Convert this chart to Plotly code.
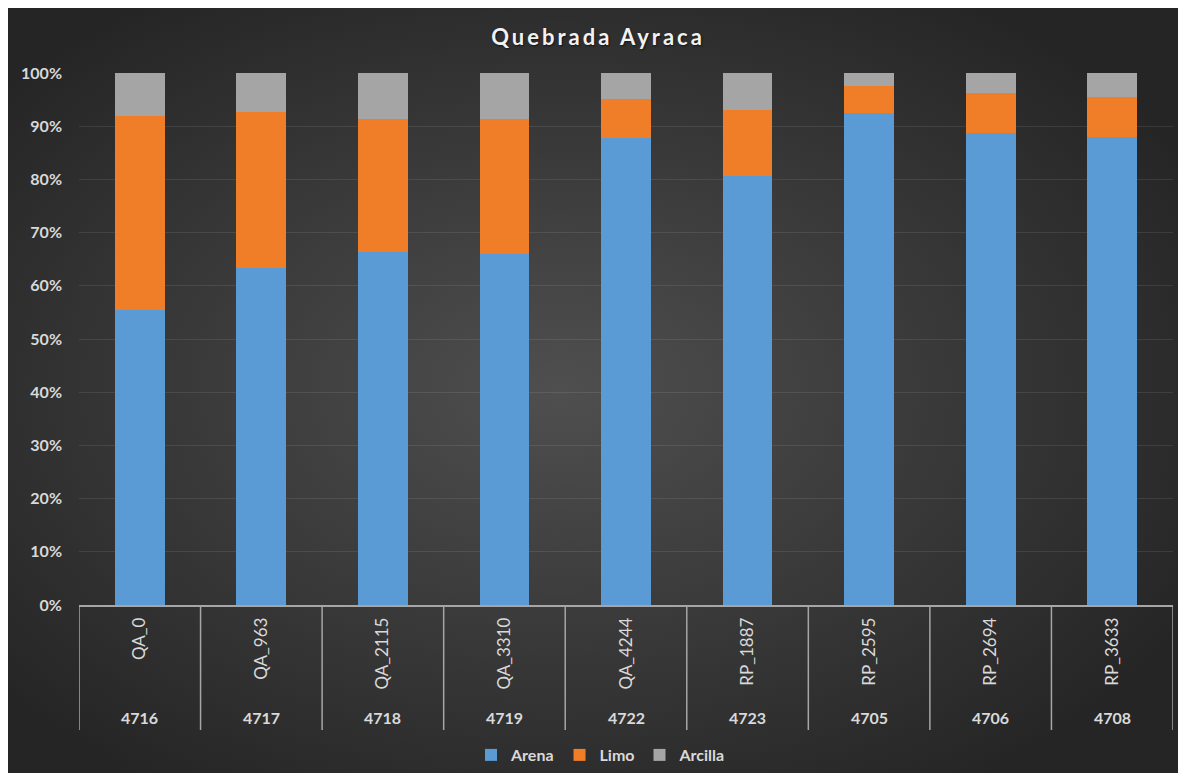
import base64
import plotly.graph_objects as go

# ---- data ----
samples = ["QA_0", "QA_963", "QA_2115", "QA_3310", "QA_4244",
           "RP_1887", "RP_2595", "RP_2694", "RP_3633"]
codes = ["4716", "4717", "4718", "4719", "4722", "4723", "4705", "4706", "4708"]
arena = [55.5, 63.3, 66.4, 66.0, 87.8, 80.6, 92.5, 88.7, 88.0]
limo = [36.4, 29.4, 25.0, 25.4, 7.3, 12.4, 5.1, 7.5, 7.5]
arcilla = [8.1, 7.3, 8.6, 8.6, 4.9, 7.0, 2.4, 3.8, 4.5]
y_ticks = [0, 10, 20, 30, 40, 50, 60, 70, 80, 90, 100]
y_labels = [f"{v}%" for v in y_ticks]

OFF = 8  # page body margin
W, H = 1172, 765
L, T = 79 - OFF, 73 - OFF
R = W - (1173 - OFF)
B = H - (605 - OFF)
PW, PH = W - L - R, H - T - B
AX = H - B  # axis y in figure px


def py(page_y):
    """page pixel y -> paper fraction"""
    return (AX - (page_y - OFF)) / PH


FONT = "Lato, 'Open Sans', sans-serif"
TXT = "#d9d9d9"

fig = go.Figure()
series = [("Arena", arena, "#5b9bd5"), ("Limo", limo, "#f07d28"), ("Arcilla", arcilla, "#a5a5a5")]
for name, vals, col in series:
    fig.add_trace(go.Bar(
        name=name, x=samples, y=vals,
        marker=dict(color=col, line=dict(width=0)),
    ))

# background with radial gradient (SVG)
svg = f'''<svg xmlns="http://www.w3.org/2000/svg" width="{W}" height="{H}" viewBox="0 0 {W} {H}">
<defs><radialGradient id="g" cx="47%" cy="50%" r="62%">
<stop offset="0" stop-color="#4f4f4f"/><stop offset="1" stop-color="#252525"/></radialGradient></defs>
<rect width="{W}" height="{H}" fill="url(#g)"/></svg>'''
src = "data:image/svg+xml;base64," + base64.b64encode(svg.encode()).decode()
fig.add_layout_image(dict(
    source=src, xref="paper", yref="paper",
    x=-L / PW, y=(AX) / PH,
    sizex=W / PW, sizey=H / PH,
    xanchor="left", yanchor="top", sizing="stretch", layer="below",
))

# divider lines of the category axis
n = len(samples)
for i in range(n + 1):
    fig.add_shape(type="line", xref="x", yref="paper",
                  x0=i - 0.5, x1=i - 0.5, y0=0, y1=py(730),
                  line=dict(color="#a6a6a6", width=1.5))

# outer category labels
for s, c in zip(samples, codes):
    fig.add_annotation(x=s, xref="x", yref="paper", y=py(717),
                       text=c, showarrow=False, yanchor="middle",
                       font=dict(family=FONT, size=16, color=TXT, weight="bold"))

fig.update_layout(
    width=W, height=H,
    margin=dict(l=L, r=R, t=T, b=B, autoexpand=False),
    paper_bgcolor="#2e2e2e", plot_bgcolor="rgba(0,0,0,0)",
    barmode="stack", bargap=0.59,
    title=dict(text='<span style="letter-spacing:3px">Quebrada Ayraca</span>',
               x=(598 - OFF) / W, xref="container", xanchor="center",
               y=1 - (37 - OFF) / H, yref="container", yanchor="middle",
               font=dict(family=FONT, size=22, color="#f2f2f2", weight="bold",
                         shadow="1px 1px 2px rgba(0,0,0,0.6)")),
    legend=dict(orientation="h", x=(601 - 79) / PW, xanchor="center",
                y=py(755), yanchor="middle", traceorder="normal",
                font=dict(family=FONT, size=16, color=TXT, weight="bold"),
                bgcolor="rgba(0,0,0,0)", itemwidth=30, tracegroupgap=0),
    xaxis=dict(range=[-0.5, n - 0.5], showgrid=False, showline=True,
               linecolor="#a6a6a6", linewidth=1.5, ticks="", tickangle=-90,
               tickfont=dict(family=FONT, size=17, color=TXT),
               ticklabelstandoff=4, fixedrange=True),
    yaxis=dict(range=[0, 100], tickmode="array", tickvals=y_ticks, ticktext=y_labels,
               gridcolor="rgba(255,255,255,0.09)", gridwidth=1, zeroline=False,
               showline=False, ticks="", ticklabelstandoff=16,
               tickfont=dict(family=FONT, size=16, color=TXT, weight="bold")),
    showlegend=True,
)

fig.write_html("out.html")
